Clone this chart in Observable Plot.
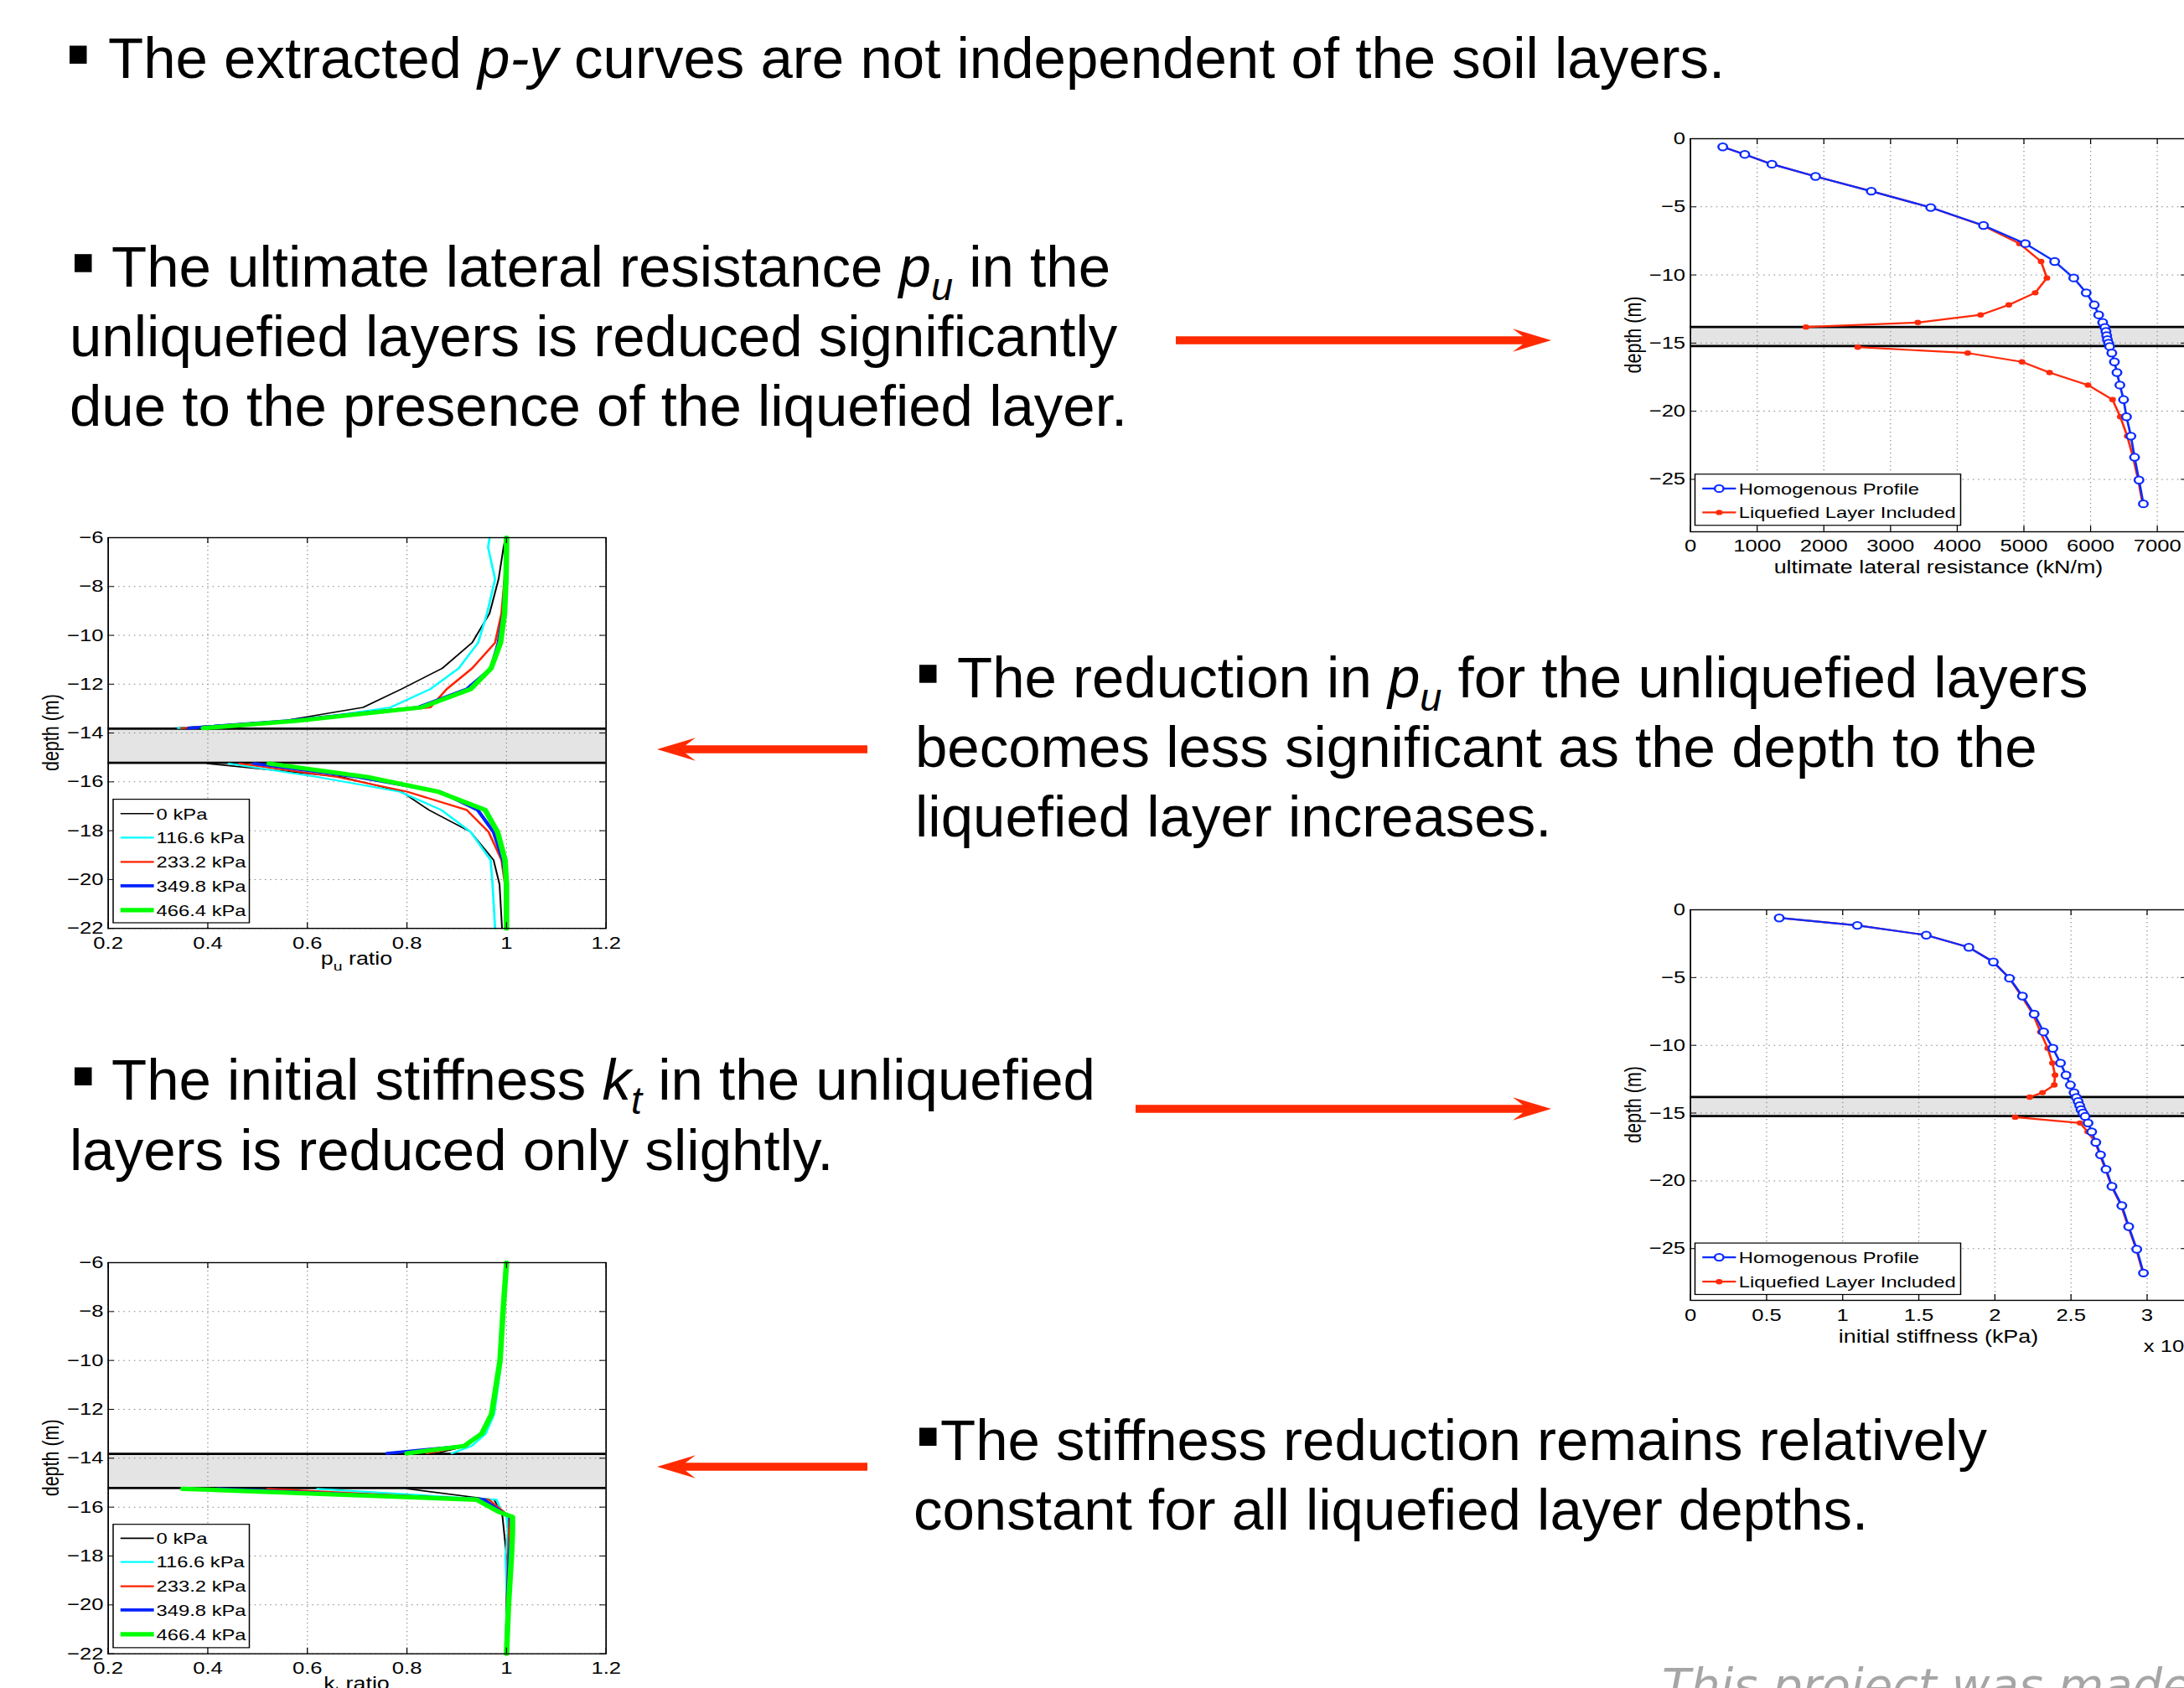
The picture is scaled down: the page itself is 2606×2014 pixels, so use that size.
<!DOCTYPE html>
<html>
<head>
<meta charset="utf-8">
<script src="https://cdn.jsdelivr.net/npm/d3@7"></script>
<script src="https://cdn.jsdelivr.net/npm/@observablehq/plot@0.6"></script>
<style>
html, body { margin: 0; padding: 0; background: #fff; overflow: hidden; width: 2606px; height: 2014px; }
#page { position: relative; width: 2606px; height: 2014px; overflow: hidden; background: #fff; }
#page svg.chart { position: absolute; transform-origin: 0 0; }
#overlay { position: absolute; left: 0; top: 0; }
</style>
</head>
<body>
<div id="page"></div>
<script>
// ================= DATA =================
// Profile comparison (top-right and middle-right figures)
const profileNames = ["Homogenous Profile", "Liquefied Layer Included"];
const depthHomog = [-0.6, -1.15, -1.87, -2.77, -3.85, -5.05, -6.37, -7.7, -9.01, -10.22, -11.31, -12.2, -12.93, -13.49, -13.85, -14.15, -14.45, -14.75, -15.0, -15.25, -15.73, -16.38, -17.16, -18.08, -19.15, -20.41, -21.83, -23.38, -25.05, -26.8];
const puHomog = [484, 814, 1221, 1875, 2711, 3602, 4394, 5021, 5461, 5747, 5934, 6055, 6121, 6181, 6214, 6230, 6241, 6252, 6269, 6285, 6318, 6357, 6395, 6439, 6494, 6538, 6604, 6659, 6725, 6791];
const kHomog = [0.583, 1.096, 1.549, 1.829, 1.990, 2.096, 2.181, 2.258, 2.320, 2.381, 2.431, 2.467, 2.496, 2.520, 2.535, 2.547, 2.557, 2.566, 2.578, 2.593, 2.612, 2.636, 2.663, 2.694, 2.730, 2.769, 2.834, 2.879, 2.932, 2.976];
// NaN = no value inside the liquefied layer
const depthLiq = [-0.6, -1.15, -1.87, -2.77, -3.85, -5.05, -6.37, -7.7, -9.01, -10.22, -11.31, -12.2, -12.93, -13.49, -13.82, NaN, -15.3, -15.73, -16.38, -17.16, -18.08, -19.15, -20.41, -21.83, -23.38, -25.05, -26.8];
const puLiq = [484, 814, 1221, 1875, 2711, 3602, 4380, 4933, 5257, 5345, 5169, 4773, 4350, 3409, 1732, NaN, 2508, 4157, 4971, 5384, 5961, 6329, 6445, 6549, 6637, 6714, 6780];
const kLiq = [0.583, 1.096, 1.549, 1.829, 1.990, 2.096, 2.175, 2.250, 2.299, 2.347, 2.378, 2.395, 2.390, 2.313, 2.229, NaN, 2.133, 2.559, 2.610, 2.660, 2.690, 2.727, 2.767, 2.830, 2.876, 2.929, 2.973];
const liquefiedLayer = [-13.82, -15.22];

// Ratio figures (left), one series per surcharge pressure
const pressures = ["0 kPa", "116.6 kPa", "233.2 kPa", "349.8 kPa", "466.4 kPa"];
const depthPuUpper = [-6, -6.4, -7.7, -9.1, -10.3, -11.35, -12.2, -12.95, -13.5, -13.8];
const puRatioUpper = [
  [0.998, 0.994, 0.984, 0.966, 0.931, 0.871, 0.789, 0.712, 0.552, 0.333],
  [0.966, 0.963, 0.977, 0.961, 0.943, 0.904, 0.847, 0.767, 0.580, 0.340],
  [1.000, 0.999, 0.996, 0.990, 0.977, 0.931, 0.880, 0.847, 0.570, 0.347],
  [1.000, 0.999, 0.998, 0.994, 0.984, 0.969, 0.920, 0.822, 0.560, 0.362],
  [1.000, 1.000, 0.999, 0.996, 0.988, 0.969, 0.928, 0.829, 0.580, 0.391]
];
const depthPuLower = [-15.25, -15.8, -16.4, -17.15, -18.05, -19.2, -20.2, -22];
const puRatioLower = [
  [0.399, 0.669, 0.789, 0.844, 0.928, 0.974, 0.986, 0.991],
  [0.442, 0.620, 0.785, 0.869, 0.928, 0.968, 0.972, 0.977],
  [0.464, 0.660, 0.800, 0.920, 0.964, 0.990, 0.997, 0.998],
  [0.493, 0.700, 0.866, 0.942, 0.974, 0.993, 1.000, 1.000],
  [0.523, 0.720, 0.862, 0.957, 0.982, 0.997, 1.000, 1.000]
];
const depthKUpper = [-6, -8, -10, -12.2, -13, -13.5, -13.8];
const kRatioUpper = [
  [1.000, 0.993, 0.988, 0.972, 0.952, 0.920, 0.860],
  [1.000, 0.994, 0.990, 0.975, 0.958, 0.930, 0.890],
  [1.000, 0.993, 0.988, 0.970, 0.950, 0.920, 0.840],
  [1.000, 0.993, 0.987, 0.970, 0.950, 0.915, 0.760],
  [1.000, 0.993, 0.987, 0.970, 0.950, 0.915, 0.800]
];
const depthKLower = [-15.25, -15.7, -16.2, -16.4, -17, -18, -19, -20, -22];
const kRatioLower = [
  [0.800, 0.975, 0.990, 0.992, 0.995, 1.000, 1.000, 1.000, 1.000],
  [0.620, 0.980, 0.990, 1.000, 1.003, 0.998, 1.000, 1.000, 1.000],
  [0.520, 0.965, 0.995, 1.005, 1.005, 1.003, 1.002, 1.000, 1.000],
  [0.420, 0.955, 0.990, 1.008, 1.010, 1.006, 1.004, 1.002, 1.000],
  [0.350, 0.940, 0.985, 1.012, 1.012, 1.010, 1.007, 1.004, 1.000]
];

// Tick values
const puTicks = [0, 1000, 2000, 3000, 4000, 5000, 6000, 7000];
const kTicks = [0, 0.5, 1, 1.5, 2, 2.5, 3];
const depthTicksProfile = [0, -5, -10, -15, -20, -25];
const ratioTicks = [0.2, 0.4, 0.6, 0.8, 1, 1.2];
const depthTicksRatio = [-6, -8, -10, -12, -14, -16, -18, -20, -22];

// Slide text
const bulletTexts = [
  [[["The extracted ", ""], ["p-y", "i"], [" curves are not independent of the soil layers.", ""]]],
  [[["The ultimate lateral resistance ", ""], ["p", "i"], ["u", "sub"], [" in the", ""]],
   [["unliquefied layers is reduced significantly", ""]],
   [["due to the presence of the liquefied layer.", ""]]],
  [[["The reduction in ", ""], ["p", "i"], ["u", "sub"], [" for the unliquefied layers", ""]],
   [["becomes less significant as the depth to the", ""]],
   [["liquefied layer increases.", ""]]],
  [[["The initial stiffness ", ""], ["k", "i"], ["t", "sub"], [" in the unliquefied", ""]],
   [["layers is reduced only slightly.", ""]]],
  [[["The stiffness reduction remains relatively", ""]],
   [["constant for all liquefied layer depths.", ""]]]
];
const footerText = "This project was made";

// ================= STYLE / LAYOUT =================
const S = 1.25; // horizontal stretch of the pasted figures
const FONT = "'Liberation Sans', Arial, Helvetica, sans-serif";
const RED = "#ff2a0a", BLUE = "#0a2bff";
const pressureColors = ["#000000", "#00ffff", "#ff2200", "#0022ff", "#00ff00"];
const pressureWidths = [1.6, 2.2, 2.2, 3.6, 5.2];
const page = document.getElementById("page");
const fmtNum = d => (d < 0 ? "\u2212" + Math.abs(d) : String(d));

function rowsWithGaps(xs, ys, name) {
  const rows = []; let seg = 0;
  xs.forEach((x, i) => {
    if (!isFinite(x) || !isFinite(ys[i])) { seg++; return; }
    rows.push({x, y: ys[i], seg: name + "-" + seg, name});
  });
  return rows;
}

function appendRich(sel, parts, size) {
  let pending = 0;
  parts.forEach(([t, st]) => {
    const ts = sel.append("tspan").text(t);
    let shift = 0, fs = null;
    if (st === "sub") { fs = size * 0.68; shift = size * 0.24; ts.attr("font-style", "italic"); }
    else if (st === "subUp") { fs = size * 0.72; shift = size * 0.3; }
    else if (st === "sup") { fs = size * 0.72; shift = -size * 0.45; }
    else if (st === "i") { ts.attr("font-style", "italic"); }
    if (fs) ts.attr("font-size", fs);
    const dy = pending + shift;
    if (dy) ts.attr("dy", dy);
    pending = -shift;
  });
}

function makeChart(cfg) {
  const {frameLeft, frameTop, frameW, frameH, mL = 70, mR = 15, mT = 20, mB = 75,
         xDomain, yDomain, xTicks, yTicks, xFmt, xPad, yPad, marks} = cfg;
  const fw = frameW / S;
  const width = mL + fw + mR, height = mT + frameH + mB;
  const grid = {stroke: "#8a8a8a", strokeDasharray: "1.3,3.7", strokeWidth: 1, strokeOpacity: 1};
  const plot = Plot.plot({
    width, height, marginLeft: mL, marginRight: mR, marginTop: mT, marginBottom: mB,
    style: {fontFamily: FONT, fontSize: "20.5px", color: "#000", background: "transparent", overflow: "visible"},
    x: {domain: xDomain, ticks: xTicks, tickFormat: xFmt, tickSize: 0, tickPadding: xPad, label: null},
    y: {domain: yDomain, ticks: yTicks, tickFormat: fmtNum, tickSize: 0, tickPadding: yPad, label: null},
    marks: [
      ...cfg.under,
      Plot.ruleX(xTicks, grid),
      Plot.ruleY(yTicks, grid),
      ...marks,
      Plot.tickX(xTicks, {x: d => d, insetTop: frameH - 7, stroke: "#000"}),
      Plot.tickX(xTicks, {x: d => d, insetBottom: frameH - 7, stroke: "#000"}),
      Plot.tickY(yTicks, {y: d => d, insetRight: fw - 6, stroke: "#000"}),
      Plot.tickY(yTicks, {y: d => d, insetLeft: fw - 6, stroke: "#000"}),
      Plot.frame({stroke: "#000", strokeWidth: 1.4})
    ]
  });
  plot.classList.add("chart");
  plot.style.left = (frameLeft - mL * S) + "px";
  plot.style.top = (frameTop - mT) + "px";
  plot.style.transform = `scaleX(${S})`;
  plot.style.maxWidth = "none";
  page.appendChild(plot);

  const svg = d3.select(plot);
  const fL = mL, fR = mL + fw, fT = mT, fB = mT + frameH;
  const ann = svg.append("g").attr("font-family", FONT).attr("fill", "#000");
  // x label
  const xl = ann.append("text").attr("x", (fL + fR) / 2).attr("y", fB + cfg.xLabelDy)
    .attr("text-anchor", "middle").attr("font-size", 21.5);
  appendRich(xl, cfg.xLabel, 21.5);
  // y label
  ann.append("text").attr("transform", `translate(${fL - 46.5},${(fT + fB) / 2}) rotate(-90)`)
    .attr("text-anchor", "middle").attr("font-size", 21.5).text("depth (m)");
  if (cfg.exponent) {
    const ex = ann.append("text").attr("x", fL + cfg.exponent.dx).attr("y", fB + cfg.exponent.dy)
      .attr("text-anchor", "start").attr("font-size", 20.5);
    appendRich(ex, [["x 10", ""], ["4", "sup"]], 20.5);
  }
  // legend
  const lg = cfg.legend;
  const g = ann.append("g").attr("font-size", 19).attr("text-anchor", "start");
  g.append("rect").attr("x", fL + lg.x).attr("y", fT + lg.y).attr("width", lg.w).attr("height", lg.h)
    .attr("fill", "#fff").attr("stroke", "#000").attr("stroke-width", 1.2);
  lg.items.forEach((it, i) => {
    const yy = fT + lg.rows[i];
    g.append("line").attr("x1", fL + lg.lx1).attr("x2", fL + lg.lx2).attr("y1", yy).attr("y2", yy)
      .attr("stroke", it.color).attr("stroke-width", it.width);
    if (it.marker === "open") {
      g.append("circle").attr("cx", fL + (lg.lx1 + lg.lx2) / 2).attr("cy", yy).attr("r", 4.2)
        .attr("fill", "#fff").attr("stroke", it.color).attr("stroke-width", 2);
    } else if (it.marker === "dot") {
      g.append("circle").attr("cx", fL + (lg.lx1 + lg.lx2) / 2).attr("cy", yy).attr("r", 3.2).attr("fill", it.color);
    }
    g.append("text").attr("x", fL + lg.tx).attr("y", yy + 6.8).attr("text-anchor", "start").text(it.label);
  });
  return plot;
}

function layerMarks() {
  return [Plot.rect([liquefiedLayer], {y1: d => d[0], y2: d => d[1], fill: "#e4e4e4"})];
}
function layerLines() {
  return [Plot.ruleY(liquefiedLayer, {stroke: "#000", strokeWidth: 2.8})];
}

function profileMarks(xsHomog, xsLiq) {
  const homog = rowsWithGaps(xsHomog, depthHomog, "h");
  const liq = rowsWithGaps(xsLiq, depthLiq, "l");
  return [
    ...layerLines(),
    Plot.line(liq, {x: "x", y: "y", z: "seg", stroke: RED, strokeWidth: 2.2}),
    Plot.dot(liq, {x: "x", y: "y", r: 3.2, fill: RED, stroke: "none"}),
    Plot.line(homog, {x: "x", y: "y", z: "seg", stroke: BLUE, strokeWidth: 2.2}),
    Plot.dot(homog, {x: "x", y: "y", r: 4.2, fill: "#fff", stroke: BLUE, strokeWidth: 2})
  ];
}

function ratioMarks(depthU, valsU, depthL, valsL) {
  const marks = [...layerLines()];
  pressures.forEach((p, i) => {
    const xs = [...valsU[i], NaN, ...valsL[i]];
    const ys = [...depthU, NaN, ...depthL];
    const rows = rowsWithGaps(xs, ys, p);
    marks.push(Plot.line(rows, {x: "x", y: "y", z: "seg", stroke: pressureColors[i], strokeWidth: pressureWidths[i]}));
  });
  return marks;
}

const profileLegendItems = [
  {label: profileNames[0], color: BLUE, width: 2.2, marker: "open"},
  {label: profileNames[1], color: RED, width: 2.2, marker: "dot"}
];
const ratioLegendItems = pressures.map((p, i) => ({label: p, color: pressureColors[i], width: pressureWidths[i]}));

// Chart 1: ultimate lateral resistance
makeChart({
  frameLeft: 2016, frameTop: 165, frameW: 593, frameH: 469,
  xDomain: [0, 7452], yDomain: [-28.85, 0], xTicks: puTicks, yTicks: depthTicksProfile,
  xFmt: d => String(d), xPad: 9, yPad: 4.8,
  under: layerMarks(), marks: profileMarks(puHomog, puLiq),
  xLabel: [["ultimate lateral resistance (kN/m)", ""]], xLabelDy: 50,
  legend: {x: 4.8, y: 400.7, w: 253.6, h: 61.1, rows: [417.9, 446.4], lx1: 11.8, lx2: 43.9, tx: 46.7, items: profileLegendItems}
});
// Chart 2: p_u ratio
makeChart({
  frameLeft: 128.5, frameTop: 641.4, frameW: 594.1, frameH: 466.2,
  xDomain: [0.2, 1.2], yDomain: [-22, -6], xTicks: ratioTicks, yTicks: depthTicksRatio,
  xFmt: d => String(d), xPad: 10, yPad: 4.5,
  under: layerMarks(), marks: ratioMarks(depthPuUpper, puRatioUpper, depthPuLower, puRatioLower),
  xLabel: [["p", ""], ["u", "subUp"], [" ratio", ""]], xLabelDy: 44,
  legend: {x: 5.2, y: 312.6, w: 130, h: 147.4, rows: [329.8, 358.4, 387.3, 415.9, 444.8], lx1: 12.2, lx2: 44.1, tx: 46.5, items: ratioLegendItems}
});
// Chart 3: initial stiffness
makeChart({
  frameLeft: 2016, frameTop: 1084.7, frameW: 593, frameH: 466,
  xDomain: [0, 3.265], yDomain: [-28.82, 0], xTicks: kTicks, yTicks: depthTicksProfile,
  xFmt: d => String(d), xPad: 10, yPad: 4.8,
  under: layerMarks(), marks: profileMarks(kHomog, kLiq),
  xLabel: [["initial stiffness (kPa)", ""]], xLabelDy: 51,
  exponent: {dx: 433, dy: 62},
  legend: {x: 4.8, y: 398.1, w: 253.6, h: 61.4, rows: [415.1, 444.2], lx1: 11.8, lx2: 43.9, tx: 46.7, items: profileLegendItems}
});
// Chart 4: k_t ratio
makeChart({
  frameLeft: 128.5, frameTop: 1505.5, frameW: 594.1, frameH: 466.7,
  xDomain: [0.2, 1.2], yDomain: [-22, -6], xTicks: ratioTicks, yTicks: depthTicksRatio,
  xFmt: d => String(d), xPad: 9, yPad: 4.5,
  under: layerMarks(), marks: ratioMarks(depthKUpper, kRatioUpper, depthKLower, kRatioLower),
  xLabel: [["k", ""], ["t", "subUp"], [" ratio", ""]], xLabelDy: 43,
  legend: {x: 5.2, y: 312.7, w: 130, h: 147.2, rows: [329.4, 357.7, 386.6, 414.9, 443.8], lx1: 12.2, lx2: 44.1, tx: 46.5, items: ratioLegendItems}
});

// ================= SLIDE TEXT & ARROWS =================
const ov = d3.select(page).append("svg").attr("id", "overlay").attr("width", 2606).attr("height", 2014);
const blockLayout = [
  {bx: 83, first: 129, cont: 83, base: [93]},
  {bx: 89, first: 133, cont: 83, base: [341.7, 425, 508.3]},
  {bx: 1097, first: 1142, cont: 1092, base: [831.7, 915, 998.3]},
  {bx: 89, first: 133, cont: 83, base: [1312, 1395.5]},
  {bx: 1097, first: 1122, cont: 1090, base: [1742, 1825]}
];
const TS = 69;
bulletTexts.forEach((block, bi) => {
  const L = blockLayout[bi];
  ov.append("rect").attr("x", L.bx).attr("y", L.base[0] - 38.5).attr("width", 20.5).attr("height", 21.5).attr("fill", "#000");
  block.forEach((line, li) => {
    const t = ov.append("text").attr("x", li === 0 ? L.first : L.cont).attr("y", L.base[li])
      .attr("font-family", FONT).attr("font-size", TS).attr("fill", "#000");
    appendRich(t, line, TS);
  });
});
ov.append("text").attr("x", 1983).attr("y", 2030).attr("font-family", "'DejaVu Sans', Verdana, sans-serif")
  .attr("font-style", "italic").attr("font-size", 56).attr("fill", "#a6a6a6").text(footerText);

function arrow(x1, tip, y) {
  const dir = tip > x1 ? 1 : -1;
  const p = (dx, dy) => `${tip - dir * dx},${y + dy}`;
  const pts = [`${x1},${y - 4.7}`, p(34, -4.7), p(46, -13.7), p(0, 0), p(46, 13.7), p(34, 4.7), `${x1},${y + 4.7}`];
  ov.append("polygon").attr("points", pts.join(" ")).attr("fill", "#ff2a00");
}
arrow(1403, 1851, 406);
arrow(1035, 784, 894);
arrow(1355, 1851, 1323);
arrow(1035, 784, 1750);
</script>
</body>
</html>
